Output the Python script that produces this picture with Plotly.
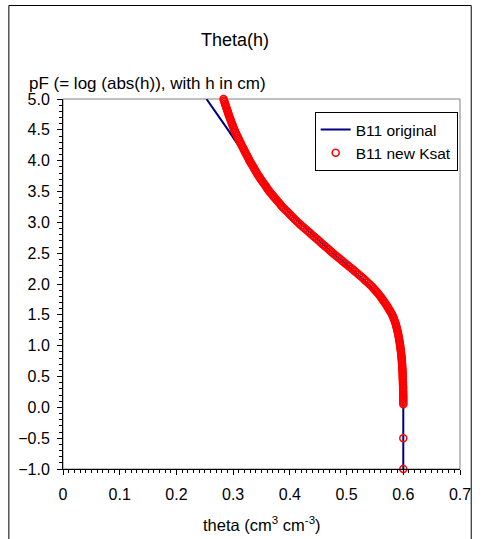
import plotly.graph_objects as go

# B11 original retention curve: pF versus volumetric water content
orig_pf = [5.0, 4.75, 4.5, 4.25, 4.0, 3.75, 3.5, 3.25, 3.0, 2.75, 2.5, 2.25,
           2.0, 1.75, 1.5, 1.25, 1.0, 0.75, 0.5, 0.25, 0.0, -0.5, -1.0]
orig_theta = [0.253, 0.272, 0.291, 0.309, 0.330, 0.347, 0.366, 0.389, 0.416,
              0.446, 0.476, 0.508, 0.538, 0.561, 0.5785, 0.588, 0.5935, 0.597,
              0.5988, 0.5998, 0.600, 0.600, 0.600]

# B11 with new Ksat: densely sampled points
new_pf = [
    5.000, 4.975, 4.950, 4.925, 4.900, 4.875, 4.850, 4.825, 4.800, 4.775,
    4.750, 4.725, 4.700, 4.675, 4.650, 4.625, 4.600, 4.575, 4.550, 4.525,
    4.500, 4.475, 4.450, 4.425, 4.400, 4.375, 4.350, 4.325, 4.300, 4.275,
    4.250, 4.225, 4.200, 4.175, 4.150, 4.125, 4.100, 4.075, 4.050, 4.025,
    4.000, 3.975, 3.950, 3.925, 3.900, 3.875, 3.850, 3.825, 3.800, 3.775,
    3.750, 3.725, 3.700, 3.675, 3.650, 3.625, 3.600, 3.575, 3.550, 3.525,
    3.500, 3.475, 3.450, 3.425, 3.400, 3.375, 3.350, 3.325, 3.300, 3.275,
    3.250, 3.225, 3.200, 3.175, 3.150, 3.125, 3.100, 3.075, 3.050, 3.025,
    3.000, 2.975, 2.950, 2.925, 2.900, 2.875, 2.850, 2.825, 2.800, 2.775,
    2.750, 2.725, 2.700, 2.675, 2.650, 2.625, 2.600, 2.575, 2.550, 2.525,
    2.500, 2.475, 2.450, 2.425, 2.400, 2.375, 2.350, 2.325, 2.300, 2.275,
    2.250, 2.225, 2.200, 2.175, 2.150, 2.125, 2.100, 2.075, 2.050, 2.025,
    2.000, 1.975, 1.950, 1.925, 1.900, 1.875, 1.850, 1.825, 1.800, 1.775,
    1.750, 1.725, 1.700, 1.675, 1.650, 1.625, 1.600, 1.575, 1.550, 1.525,
    1.500, 1.475, 1.450, 1.425, 1.400, 1.375, 1.350, 1.325, 1.300, 1.275,
    1.250, 1.225, 1.200, 1.175, 1.150, 1.125, 1.100, 1.075, 1.050, 1.025,
    1.000, 0.975, 0.950, 0.925, 0.900, 0.875, 0.850, 0.825, 0.800, 0.775,
    0.750, 0.725, 0.700, 0.675, 0.650, 0.625, 0.600, 0.575, 0.550, 0.525,
    0.500, 0.475, 0.450, 0.425, 0.400, 0.375, 0.350, 0.325, 0.300, 0.275,
    0.250, 0.225, 0.200, 0.175, 0.150, 0.125, 0.100, 0.075, 0.050,
    -0.5, -1.0,
]
new_theta = [
    0.2830, 0.2839, 0.2848, 0.2857, 0.2866, 0.2875, 0.2884, 0.2893, 0.2902, 0.2911,
    0.2920, 0.2930, 0.2940, 0.2950, 0.2960, 0.2970, 0.2980, 0.2990, 0.3000, 0.3010,
    0.3020, 0.3033, 0.3046, 0.3059, 0.3072, 0.3085, 0.3098, 0.3111, 0.3124, 0.3137,
    0.3150, 0.3164, 0.3178, 0.3192, 0.3206, 0.3220, 0.3234, 0.3248, 0.3262, 0.3276,
    0.3290, 0.3306, 0.3322, 0.3338, 0.3354, 0.3370, 0.3386, 0.3402, 0.3418, 0.3434,
    0.3450, 0.3469, 0.3488, 0.3507, 0.3526, 0.3545, 0.3564, 0.3583, 0.3602, 0.3621,
    0.3640, 0.3663, 0.3686, 0.3709, 0.3732, 0.3755, 0.3778, 0.3801, 0.3824, 0.3847,
    0.3870, 0.3897, 0.3924, 0.3951, 0.3978, 0.4005, 0.4032, 0.4059, 0.4086, 0.4113,
    0.4140, 0.4171, 0.4202, 0.4233, 0.4264, 0.4295, 0.4326, 0.4357, 0.4388, 0.4419,
    0.4450, 0.4481, 0.4512, 0.4543, 0.4574, 0.4605, 0.4636, 0.4667, 0.4698, 0.4729,
    0.4760, 0.4793, 0.4826, 0.4859, 0.4892, 0.4925, 0.4958, 0.4991, 0.5024, 0.5057,
    0.5090, 0.5123, 0.5156, 0.5188, 0.5220, 0.5251, 0.5282, 0.5312, 0.5342, 0.5371,
    0.5400, 0.5428, 0.5455, 0.5480, 0.5505, 0.5529, 0.5552, 0.5574, 0.5595, 0.5615,
    0.5635, 0.5654, 0.5673, 0.5691, 0.5709, 0.5726, 0.5743, 0.5759, 0.5775, 0.5790,
    0.5805, 0.5817, 0.5829, 0.5839, 0.5849, 0.5858, 0.5867, 0.5875, 0.5882, 0.5889,
    0.5895, 0.5901, 0.5907, 0.5913, 0.5918, 0.5923, 0.5928, 0.5933, 0.5937, 0.5941,
    0.5945, 0.5949, 0.5952, 0.5956, 0.5959, 0.5962, 0.5965, 0.5968, 0.5970, 0.5973,
    0.5975, 0.5977, 0.5979, 0.5981, 0.5982, 0.5984, 0.5985, 0.5987, 0.5988, 0.5989,
    0.5990, 0.5991, 0.5992, 0.5993, 0.5994, 0.5995, 0.5996, 0.5997, 0.5997, 0.5998,
    0.5998, 0.5999, 0.5999, 0.6000, 0.6000, 0.6000, 0.6000, 0.6000, 0.6000,
    0.6000, 0.6000,
]

FONT = "Liberation Sans, Arial, sans-serif"

W, H = 483, 539
L, R, T, B = 63, 470, 99, 469  # plot area edges in pixels


def px(xp):
    return (xp - L) / (R - L)


def py(yp):
    return (B - yp) / (B - T)


fig = go.Figure()

fig.add_trace(go.Scatter(
    x=orig_theta, y=orig_pf, mode="lines", name="B11 original",
    line=dict(color="#000080", width=2, shape="spline", smoothing=0.6),
    cliponaxis=False,
))
fig.add_trace(go.Scatter(
    x=new_theta, y=new_pf, mode="markers", name="B11 new Ksat",
    marker=dict(symbol="circle-open", size=7, color="#FF0000",
                line=dict(color="#FF0000", width=1.5)),
    cliponaxis=False,
))

axis_common = dict(
    showgrid=False, zeroline=False, showline=True, linecolor="black", linewidth=1,
    ticks="outside", ticklen=5, tickwidth=1, tickcolor="black",
    tickfont=dict(family=FONT, size=16, color="black"),
)

fig.update_xaxes(range=[0, 0.7], tick0=0, dtick=0.1,
                 minor=dict(dtick=0.01, ticks="outside", ticklen=3, tickcolor="black",
                            showgrid=False),
                 ticklabelstandoff=6,
                 **axis_common)
fig.update_yaxes(range=[-1, 5], tick0=-1, dtick=0.5, tickformat=".1f",
                 minor=dict(dtick=0.1, ticks="outside", ticklen=3, tickcolor="black",
                            showgrid=False),
                 ticklabelstandoff=4,
                 **axis_common)

shapes = [
    # grey frame around the plot area
    dict(type="rect", xref="paper", yref="paper", x0=0, x1=1, y0=0, y1=1,
         line=dict(color="#808080", width=1), layer="below"),
    # outer chart border
    dict(type="rect", xref="paper", yref="paper", x0=px(7.5), x1=px(481.5),
         y0=py(548), y1=py(5.5), line=dict(color="black", width=1), layer="below"),
]

annotations = [
    dict(text="Theta(h)", x=px(239), y=py(40), xref="paper", yref="paper",
         xanchor="center", yanchor="middle", showarrow=False,
         font=dict(family=FONT, size=18, color="black")),
    dict(text="pF (= log (abs(h)), with h in cm)", x=px(26), y=py(83),
         xref="paper", yref="paper", xanchor="left", yanchor="middle",
         showarrow=False, font=dict(family=FONT, size=17, color="black")),
    dict(text="theta (cm<sup>3</sup> cm<sup>-3</sup>)", x=px(266.5), y=py(524),
         xref="paper", yref="paper", xanchor="center", yanchor="middle",
         showarrow=False, font=dict(family=FONT, size=16.5, color="black")),
]

fig.update_layout(
    width=W, height=H,
    margin=dict(l=L, r=W - R, t=T, b=H - B, pad=0),
    paper_bgcolor="white", plot_bgcolor="white",
    shapes=shapes, annotations=annotations,
    showlegend=True,
    legend=dict(x=px(321), y=py(112), xanchor="left", yanchor="top",
                bgcolor="white", bordercolor="black", borderwidth=1,
                font=dict(family=FONT, size=15.5, color="black"),
                itemwidth=30, tracegroupgap=0),
)

fig.write_html("out.html")
